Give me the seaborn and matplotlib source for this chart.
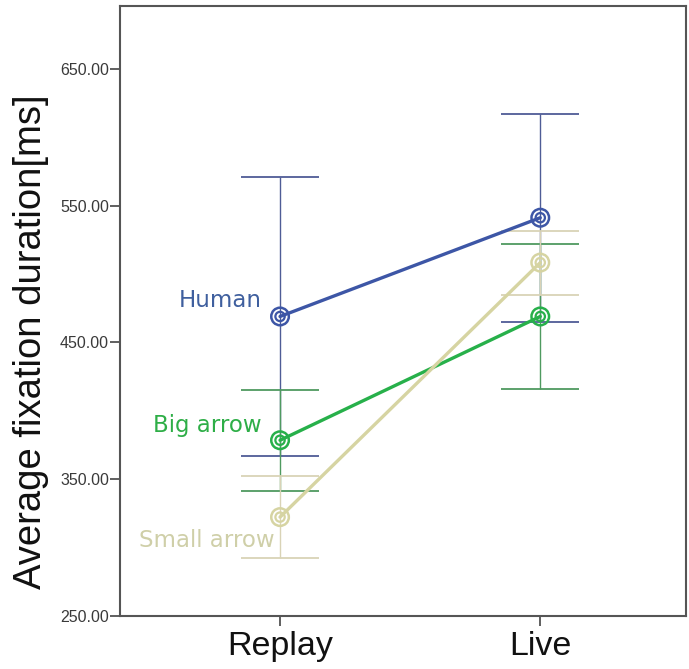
import matplotlib
matplotlib.use("Agg")
import matplotlib.pyplot as plt
import seaborn as sns
import pandas as pd

# Mean fixation durations (ms) with 95% CI half-widths
conditions = ["Replay", "Live"]
groups = ["Human", "Big arrow", "Small arrow"]
human_mean = [469.0, 541.2]
human_err = [102.2, 75.9]
big_mean = [378.5, 469.0]
big_err = [36.9, 53.3]
small_mean = [322.3, 508.4]
small_err = [29.9, 23.4]
y_ticks = [250, 350, 450, 550, 650]

line_colors = {"Human": "#3d56a6", "Big arrow": "#27b04a", "Small arrow": "#d6d4a2"}
bar_colors = {"Human": "#4f5c96", "Big arrow": "#4f9a60", "Small arrow": "#d9d3b6"}
text_colors = {"Human": "#3f5f9e", "Big arrow": "#2eae47", "Small arrow": "#cfcfa8"}

rows = []
for g, m, e in [("Human", human_mean, human_err),
                ("Big arrow", big_mean, big_err),
                ("Small arrow", small_mean, small_err)]:
    for c, mv, ev in zip(conditions, m, e):
        rows.append({"condition": c, "group": g, "mean": mv, "err": ev})
df = pd.DataFrame(rows)

sns.set_theme(style="white")
plt.rcParams["font.family"] = ["Liberation Sans", "DejaVu Sans"]

fig = plt.figure(figsize=(6.89, 6.69), dpi=100)
ax = fig.add_axes([120 / 689, 53 / 669, 566 / 689, 610 / 669])

# error bars first so the lines sit on top
for g in groups:
    sub = df[df["group"] == g]
    xs = [conditions.index(c) for c in sub["condition"]]
    ax.errorbar(xs, sub["mean"], yerr=sub["err"], fmt="none",
                ecolor=bar_colors[g], elinewidth=1.0, capsize=28,
                capthick=1.3, zorder=2)

sns.lineplot(data=df, x="condition", y="mean", hue="group",
             hue_order=groups, palette=line_colors, linewidth=2.4,
             legend=False, sort=False, ax=ax, zorder=3)

# double-ring markers
for size, lw in [(160, 1.8), (45, 1.6)]:
    sns.scatterplot(data=df, x="condition", y="mean", hue="group",
                    hue_order=groups, palette=line_colors, s=size,
                    legend=False, ax=ax, zorder=4)
    coll = ax.collections[-1]
    fc = coll.get_facecolors()
    coll.set_edgecolors(fc)
    coll.set_facecolors("none")
    coll.set_linewidths(lw)

# group labels beside the Replay points
label_pos = {"Human": (-0.07, 481), "Big arrow": (-0.07, 389.5),
             "Small arrow": (-0.02, 305.5)}
for g in groups:
    x, y = label_pos[g]
    ax.text(x, y, g, color=text_colors[g], fontsize=16.5, ha="right",
            va="center", family="DejaVu Sans")

ax.set_xlim(-0.615, 1.56)
ax.set_ylim(250, 696)
ax.set_yticks(y_ticks)
ax.set_yticklabels([f"{v:.2f}" for v in y_ticks], fontsize=11.5, color="#3a3a3a")
ax.set_xticks([0, 1])
ax.set_xticklabels(conditions, fontsize=24.5, color="#111111")
ax.set_xlabel("")
ax.set_ylabel("Average fixation duration[ms]", fontsize=27.5, color="#111111")
ax.yaxis.set_label_coords(-0.126, 0.449)

ax.tick_params(axis="y", direction="out", length=7, width=1.2,
               color="#444444", left=True, pad=1)
ax.tick_params(axis="x", direction="out", length=7, width=1.2,
               color="#444444", bottom=True, pad=4)
for sp in ax.spines.values():
    sp.set_visible(True)
    sp.set_color("#555555")
    sp.set_linewidth(1.5)

fig.savefig("out.png", dpi=100, facecolor="white")
